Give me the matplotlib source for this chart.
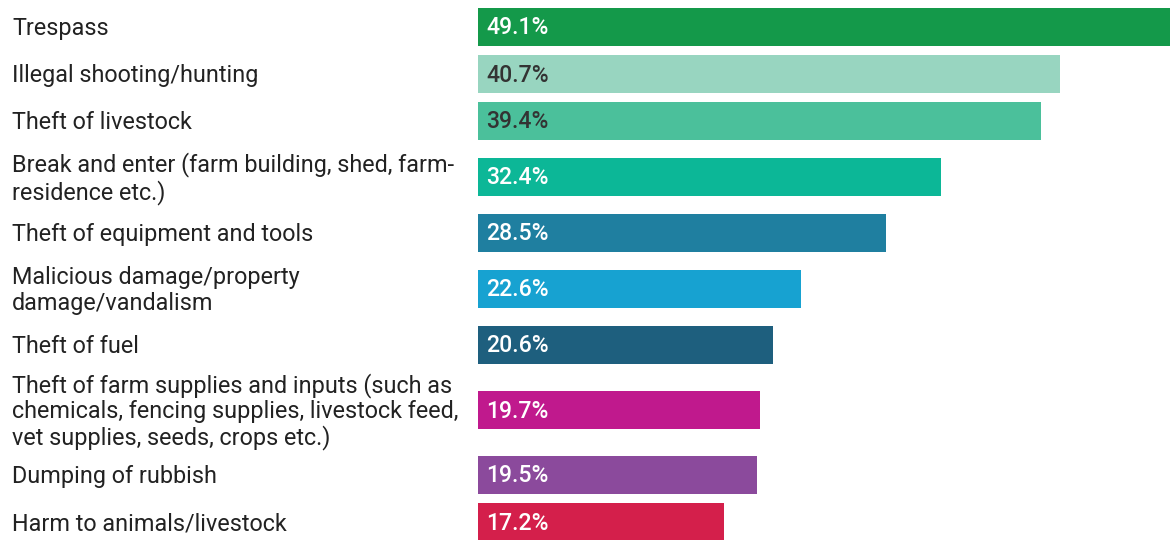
import matplotlib
matplotlib.use("Agg")
import matplotlib.pyplot as plt

categories = [
    "Trespass",
    "Illegal shooting/hunting",
    "Theft of livestock",
    "Break and enter (farm building, shed, farm-\nresidence etc.)",
    "Theft of equipment and tools",
    "Malicious damage/property\ndamage/vandalism",
    "Theft of fuel",
    "Theft of farm supplies and inputs (such as\nchemicals, fencing supplies, livestock feed,\nvet supplies, seeds, crops etc.)",
    "Dumping of rubbish",
    "Harm to animals/livestock",
]
values = [49.1, 40.7, 39.4, 32.4, 28.5, 22.6, 20.6, 19.7, 19.5, 17.2]
colors = ["#14994A", "#98D5C0", "#4BC09B", "#0CB797", "#1F7FA0",
          "#17A2D1", "#1E5F7E", "#C0198D", "#8B4A9C", "#D41F4B"]
value_text_colors = ["white", "#333333", "#333333", "white", "white",
                     "white", "white", "white", "white", "white"]

plt.rcParams['font.family'] = ['Roboto', 'DejaVu Sans']

W, H = 1170, 540
fig = plt.figure(figsize=(W / 100, H / 100), dpi=100)

# row centres in pixel units, spacing grows with label line count
base_pitch = 47.0
extra_per_line = 18.0
centers = []
y = 27.0
prev_extra = None
for lab in categories:
    extra = (lab.count("\n")) * extra_per_line
    if prev_extra is not None:
        y += base_pitch + prev_extra / 2 + extra / 2
    centers.append(y)
    prev_extra = extra

left_px = 478
ax = fig.add_axes([left_px / W, 0, 1 - left_px / W, 1])
ax.set_xlim(0, (W - left_px) / 14.3)
ax.set_ylim(H, 0)
ax.axis("off")

ax.barh(centers, values, height=38, color=colors, edgecolor="none")
for c, v, tc in zip(centers, values, value_text_colors):
    ax.text(0.6, c + 1, f"{v}%", va="center", ha="left", fontsize=16.6,
            fontweight="medium", color=tc)

# category labels
lab_ax = fig.add_axes([0, 0, left_px / W, 1])
lab_ax.set_xlim(0, left_px)
lab_ax.set_ylim(H, 0)
lab_ax.axis("off")
for c, lab in zip(centers, categories):
    lab_ax.text(12, c + 1.5, lab, va="center", ha="left", fontsize=16.8,
                color="#222222", linespacing=1.12)

fig.savefig("out.png", dpi=100)
